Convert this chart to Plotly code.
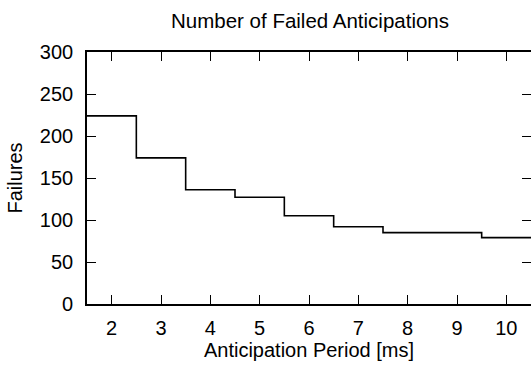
import plotly.graph_objects as go

# Anticipation period (ms) and number of failed anticipations per period
periods = [2, 3, 4, 5, 6, 7, 8, 9, 10]
failures = [224, 174, 136, 127, 105, 92, 85, 85, 79]

x_ticks = [2, 3, 4, 5, 6, 7, 8, 9, 10]
y_ticks = [0, 50, 100, 150, 200, 250, 300]

# histogram-style steps: each level spans +/- half a period around its x value
half = 0.5
step_x = [p - half for p in periods] + [periods[-1] + half]
step_y = failures + [failures[-1]]

FONT = "Liberation Sans, Arial, Helvetica, sans-serif"
TXT = dict(family=FONT, size=20, color="black")

fig = go.Figure()
fig.add_trace(go.Scatter(
    x=step_x, y=step_y, mode="lines",
    line=dict(color="black", width=1.6, shape="hv"),
    showlegend=False, hoverinfo="skip",
))

axis_common = dict(
    showgrid=False, zeroline=False,
    showline=True, linecolor="black", linewidth=1.6,
    mirror="allticks", ticks="inside", ticklen=9, tickwidth=1.4,
    tickcolor="black",
    tickfont=TXT,
)

fig.update_layout(
    width=540, height=368,
    margin=dict(l=87, r=7, t=52, b=64),
    paper_bgcolor="white", plot_bgcolor="white",
    title=dict(text="Number of Failed Anticipations", x=310 / 540, xanchor="center",
               xref="container", yref="container",
               y=1 - 21 / 368, yanchor="middle",
               font=dict(family=FONT, size=20.5, color="black")),
    xaxis=dict(range=[1.5, 10.5], tickvals=x_ticks, ticklabelstandoff=5,
               title=dict(text="Anticipation Period [ms]", standoff=3, font=TXT),
               **axis_common),
    yaxis=dict(range=[0, 300], tickvals=y_ticks, ticklabelstandoff=8,
               title=dict(text="Failures", standoff=12, font=TXT),
               **axis_common),
)

fig.write_html(
    "out.html",
    post_script="document.documentElement.style.overflow='hidden';"
                "document.body.style.overflow='hidden';document.body.style.margin='0';",
)
